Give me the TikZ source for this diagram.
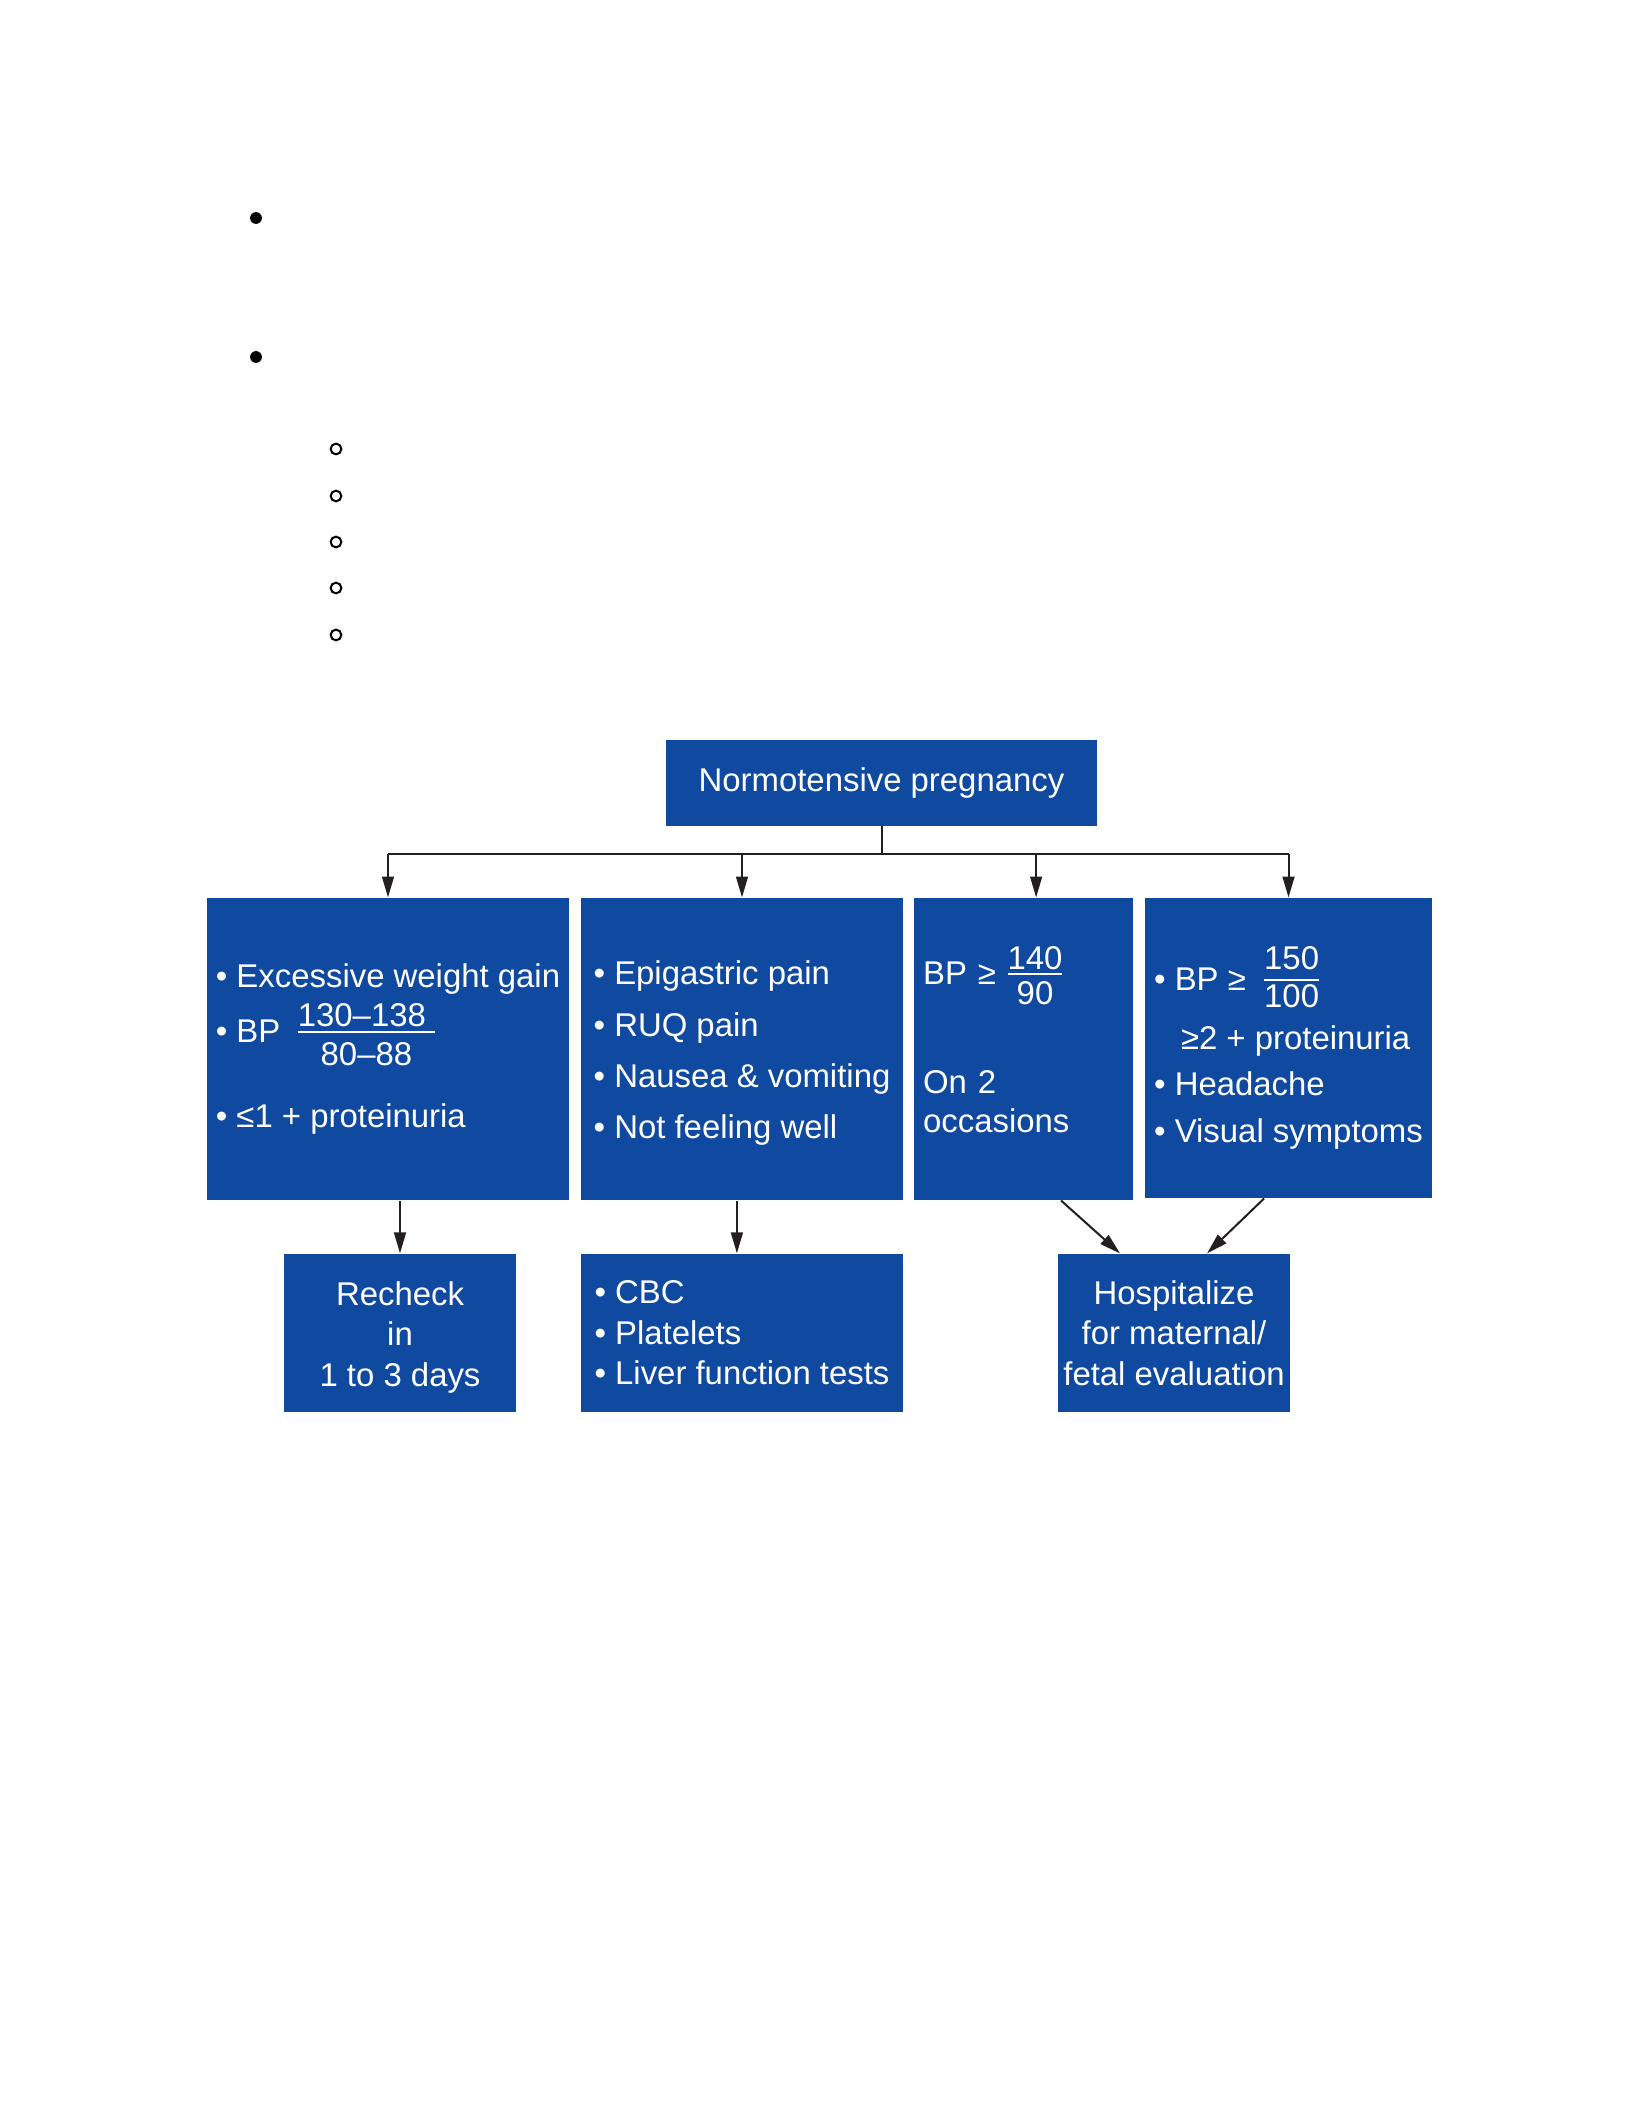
\documentclass[tikz,border=0pt]{standalone}
\usepackage{fontspec}
\setmainfont{Liberation Sans}
\usepackage{tikz}
\usetikzlibrary{arrows.meta, positioning}
\usepackage{xcolor}
\definecolor{boxblue}{RGB}{16,74,160}
\definecolor{linegray}{RGB}{35,31,32}
\lineskiplimit=-100pt
% fraction built by hand: numerator, denominator, raise, lower
\newcommand\bpfrac[4]{\leavevmode\hbox{%
	\setbox0=\hbox{#1}\setbox2=\hbox{#2}%
	\dimen0=\wd0 \ifdim\wd2>\dimen0 \dimen0=\wd2 \fi
	\rlap{\hbox to\dimen0{\hss\raise#3\box0\hss}}%
	\rlap{\hbox to\dimen0{\hss\lower#4\box2\hss}}%
	\raise3.5bp\hbox{\vrule width\dimen0 height0.75bp depth0pt}}}
\tikzset{%
	box/.style={
		fill=boxblue,
		text=white,
		inner sep=0pt,
		align=left,
		font=\fontsize{12.3}{19.1}\selectfont
	},
	arr/.style={
		-{Triangle[length=7.8bp,width=4.4bp]},
		line width=0.75bp,
		draw=linegray
	},
}
\begin{document}
\begin{tikzpicture}[x=0.37249bp, y=-0.37249bp]
			\useasboundingbox (0,0) rectangle (1643,2127);
			
			% Empty list marks at the top
			\fill (256,218) circle[radius=2.2bp];
			\fill (256,357) circle[radius=2.2bp];
			\draw[line width=0.75bp] (336,449) circle[radius=2bp];
			\draw[line width=0.75bp] (336,496) circle[radius=2bp];
			\draw[line width=0.75bp] (336,542) circle[radius=2bp];
			\draw[line width=0.75bp] (336,588) circle[radius=2bp];
			\draw[line width=0.75bp] (336,635) circle[radius=2bp];
			
			% Top box
			\node[box, align=center, minimum width=160.5bp, minimum height=32bp] (norm) at (881.5,783) {Normotensive pregnancy};
			
			% Second row
			\node[box, minimum width=134.8bp, minimum height=112.5bp] (signs) at (388,1049)
				{• Excessive weight gain\\[1.4bp]
				 • BP\hspace{6.5bp}\bpfrac{130–138\ }{80–88}{5.8bp}{8.7bp}\\[12.6bp]
				 • ≤1 + proteinuria};
			\node[box, minimum width=119.9bp, minimum height=112.5bp,
				font=\fontsize{12.3}{19.2}\selectfont] (pain) at (742,1049)
				{\rule{0pt}{12bp}• Epigastric pain\\ • RUQ pain\\ • Nausea \& vomiting\\ • Not feeling well};
			\node[box, text width=74.8bp, minimum width=81.6bp, minimum height=112.5bp,
				font=\fontsize{12.3}{14.5}\selectfont] (bp140) at (1023.5,1049)
				{BP ≥\hspace{4.3bp}\bpfrac{140}{90}{5.8bp}{7.4bp}\\[23.6bp]
				 On 2\\ occasions\rule[-7.2bp]{0pt}{7.2bp}};
			\node[box, minimum width=106.9bp, minimum height=111.7bp,
				font=\fontsize{12.3}{17.3}\selectfont] (bp150) at (1288.5,1048)
				{• BP ≥\hspace{6.8bp}\bpfrac{150}{100}{7.8bp}{6.3bp}\\[4.7bp]
				 \hspace*{10bp}≥2 + proteinuria\\ • Headache\\ • Visual symptoms};
			
			% Third row
			\node[box, align=center, minimum width=86.4bp, minimum height=58.9bp,
				font=\fontsize{12.3}{15.2}\selectfont] (recheck) at (400,1333)
				{\rule{0pt}{12bp}Recheck\\ in\\ 1 to 3 days};
			\node[box, minimum width=119.9bp, minimum height=58.9bp,
				font=\fontsize{12.3}{15.2}\selectfont] (labs) at (742,1333)
				{• CBC\\ • Platelets\\ • Liver function tests};
			\node[box, align=center, minimum width=86.4bp, minimum height=58.9bp,
				font=\fontsize{12.3}{15.2}\selectfont] (hosp) at (1174,1333)
				{Hospitalize\\ for maternal/\\ fetal evaluation};
			
			% Branching from the top box
			\draw[arr, -] (norm.south) -- ++(0,28) coordinate (split);
			\draw[arr, -] (split -| signs.north) -- (split -| bp150.north);
			\coordinate (bp140in) at ([xshift=4.7bp]bp140.north);
			\draw[arr] (split -| signs.north) -- (signs.north);
			\draw[arr] (split -| pain.north) -- (pain.north);
			\draw[arr] (split -| bp140in) -- (bp140in);
			\draw[arr] (split -| bp150.north) -- (bp150.north);
			
			% Down to the third row
			\draw[arr] (recheck.north |- signs.south) -- (recheck.north);
			\draw[arr] ([xshift=-1.9bp]pain.south) -- ([xshift=-1.9bp]labs.north);
			\draw[arr] ([xshift=14bp]bp140.south) -- ([xshift=-20.1bp]hosp.north);
			\draw[arr] ([xshift=-9.1bp]bp150.south) -- ([xshift=12.3bp]hosp.north);
		\end{tikzpicture}
\end{document}
